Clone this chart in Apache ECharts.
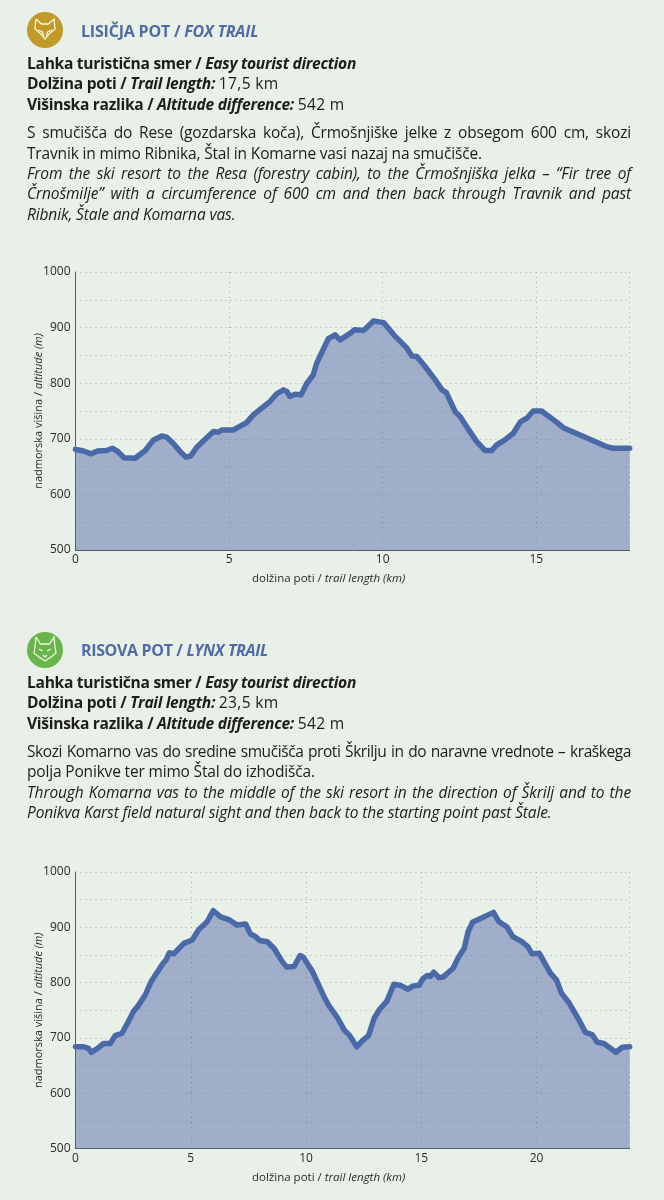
<!DOCTYPE html>
<html><head><meta charset="utf-8">
<script src="https://cdn.jsdelivr.net/npm/echarts@6/dist/echarts.min.js"></script>
<style>
html,body{margin:0;padding:0;background:#e9f0e7;width:664px;height:1200px;overflow:hidden}
#c{position:absolute;left:0;top:0;width:664px;height:1200px}
.t{position:absolute;left:27px;width:604px;white-space:nowrap;font-family:"Open Sans","Noto Sans",sans-serif;color:#1d1d1b;font-size:15.5px;line-height:20px;letter-spacing:-.17px}
.j{text-align:justify;text-align-last:justify;white-space:normal}
.it{letter-spacing:-.12px}
.b{font-weight:700;font-size:15.6px;letter-spacing:-.3px}
.b span{font-weight:400;letter-spacing:.3px}
.h{left:81px;color:#4f6ba8;font-weight:700;font-size:16px;letter-spacing:-.2px}
.tight{letter-spacing:-.42px}
i{font-style:italic}
</style></head><body>
<div id="c"></div>
<div class="t h" style="top:21px">LISIČJA POT / <i>FOX TRAIL</i></div>
<div class="t b" style="top:53px">Lahka turistična smer / <i>Easy tourist direction</i></div>
<div class="t b" style="top:73px">Dolžina poti / <i>Trail length:</i> <span>17,5 km</span></div>
<div class="t b" style="top:94px">Višinska razlika / <i>Altitude difference:</i> <span>542 m</span></div>
<div class="t j" style="top:122px">S smučišča do Rese (gozdarska koča), Črmošnjiške jelke z obsegom 600 cm, skozi</div>
<div class="t" style="top:143px">Travnik in mimo Ribnika, Štal in Komarne vasi nazaj na smučišče.</div>
<div class="t j it" style="top:163px"><i>From the ski resort to the Resa (forestry cabin), to the Črmošnjiška jelka – “Fir tree of</i></div>
<div class="t j it" style="top:183px"><i>Črnošmilje” with a circumference of 600 cm and then back through Travnik and past</i></div>
<div class="t it" style="top:204px"><i>Ribnik, Štale and Komarna vas.</i></div>

<div class="t h" style="top:640px;letter-spacing:-.35px">RISOVA POT / <i>LYNX TRAIL</i></div>
<div class="t b" style="top:672px">Lahka turistična smer / <i>Easy tourist direction</i></div>
<div class="t b" style="top:692px">Dolžina poti / <i>Trail length:</i> <span>23,5 km</span></div>
<div class="t b" style="top:713px">Višinska razlika / <i>Altitude difference:</i> <span>542 m</span></div>
<div class="t j tight" style="top:741px">Skozi Komarno vas do sredine smučišča proti Škrilju in do naravne vrednote – kraškega</div>
<div class="t" style="top:761px">polja Ponikve ter mimo Štal do izhodišča.</div>
<div class="t j it" style="top:782px"><i>Through Komarna vas to the middle of the ski resort in the direction of Škrilj and to the</i></div>
<div class="t it" style="top:802px"><i>Ponikva Karst field natural sight and then back to the starting point past Štale.</i></div>
<script>
const foxKm = [0,0.26,0.51,0.72,1.0,1.21,1.4,1.58,1.94,2.27,2.54,2.81,2.97,3.19,3.41,3.59,3.75,3.95,4.22,4.49,4.66,4.76,5.14,5.57,5.79,6.06,6.33,6.55,6.77,6.88,6.98,7.15,7.34,7.53,7.74,7.85,8.23,8.45,8.61,8.95,9.08,9.38,9.7,10.03,10.36,10.79,10.95,11.11,11.38,11.71,11.93,12.07,12.36,12.52,12.74,13.06,13.33,13.55,13.71,13.98,14.25,14.49,14.69,14.9,15.17,15.66,15.88,16.63,17.28,17.5,18.04];
const foxAlt = [681,678,673,678,679,683,676,666,665,679,698,705,703,691,677,667,669,685,699,713,712,716,716,729,743,755,767,781,788,785,776,780,779,800,815,836,880,887,878,890,896,895,912,909,887,863,849,848,830,806,788,783,749,740,721,695,679,679,689,698,710,731,737,750,750,730,720,702,686,683,683];
const lynxKm = [0,0.35,0.57,0.68,0.96,1.22,1.51,1.72,2.01,2.26,2.52,2.7,3.03,3.28,3.8,3.93,4.07,4.26,4.7,5.06,5.35,5.71,5.97,6.29,6.65,7.01,7.38,7.59,7.78,7.99,8.32,8.61,8.97,9.16,9.48,9.74,9.88,10.28,10.81,11,11.37,11.66,11.88,12.2,12.45,12.71,12.96,13.18,13.5,13.81,14.1,14.42,14.64,14.9,15.07,15.26,15.39,15.54,15.77,15.94,16.38,16.6,16.86,17.03,17.22,18.13,18.37,18.71,18.97,19.36,19.62,19.8,20.12,20.6,20.86,21.08,21.4,21.83,22.12,22.41,22.63,22.92,23.44,23.72,24.04];
const lynxAlt = [684,684,681,674,681,690,690,704,708,727,748,757,778,802,835,841,854,852,871,877,896,910,930,919,914,904,906,888,884,876,874,862,838,828,829,849,846,820,772,758,736,714,705,684,695,704,736,751,766,797,795,788,794,795,807,813,811,819,809,810,826,845,862,892,909,927,910,901,883,874,865,852,853,817,805,781,764,733,710,706,692,690,674,683,684];
const altTicks = [500,1000];
const foxMaxKm = 18.04, lynxMaxKm = 24.04;
const yName = 'nadmorska višina / ', yNameIt = 'altitude (m)';
const xName = 'dolžina poti / ', xNameIt = 'trail length (km)';

const TXT='#2b2b2b', FONT='"Open Sans","Noto Sans",sans-serif';
const dot={color:'#a9b0a8',width:1,type:[1,4]};
function xA(i,max){return {gridIndex:i,type:'value',min:0,max:max,interval:5,
  name:`{a|${xName}}{b|${xNameIt}}`,nameLocation:'middle',nameGap:23,nameMoveOverlap:false,
  nameTextStyle:{padding:[0,48,0,0],rich:{a:{fontSize:11.5,fontFamily:FONT,color:TXT},b:{fontSize:11.5,fontFamily:FONT,fontStyle:'italic',color:TXT}}},
  axisLine:{show:true,onZero:false,lineStyle:{color:'#555b63',width:1}},axisTick:{show:false},
  axisLabel:{color:TXT,fontFamily:FONT,fontSize:12,margin:4,formatter:v=>v>max-1?'':String(v)},
  splitLine:{show:true,showMaxLine:true,lineStyle:dot}};}
function yA(i){return {gridIndex:i,type:'value',min:altTicks[0],max:altTicks[1],interval:100,
  name:`{a|${yName}}{b|${yNameIt}}`,nameLocation:'middle',nameGap:31,nameRotate:90,nameMoveOverlap:false,
  nameTextStyle:{rich:{a:{fontSize:11,fontFamily:FONT,color:TXT},b:{fontSize:11,fontFamily:FONT,fontStyle:'italic',color:TXT}}},
  axisLine:{show:true,lineStyle:{color:'#555b63',width:1}},axisTick:{show:false},
  axisLabel:{color:TXT,fontFamily:FONT,fontSize:12,margin:5,formatter:v=>String(v)},
  splitLine:{show:true,lineStyle:dot},
  minorTick:{show:false,splitNumber:2},minorSplitLine:{show:true,lineStyle:dot}};}
function ser(i,km,alt){return {type:'line',xAxisIndex:i,yAxisIndex:i,data:km.map((k,n)=>[k,alt[n]]),
  showSymbol:false,smooth:false,clip:true,z:3,
  lineStyle:{color:'#4a69a8',width:5.5,join:'round',cap:'round'},
  areaStyle:{color:'#576cab',opacity:.5,origin:'start'},silent:true};}
const foxGlyph=[[[-9,-11],[-3.5,-6],[3.5,-6],[9,-11],[10,-1],[4,4],[0,9],[-4,4],[-10,-1],[-9,-11]],[[-7,0],[-2.5,2],[-1.5,6]],[[7,0],[2.5,2],[1.5,6]]];
const lynxGlyph=[[[-9,-13],[-4.5,-6],[4.5,-6],[9,-13],[10,-3],[11,3],[6,7],[0,11],[-6,7],[-11,3],[-10,-3],[-9,-13]],[[-6,-1],[-2,1]],[[6,-1],[2,1]],[[-2,5],[0,7],[2,5]]];
function icon(cx,cy,col,g){return {type:'group',x:cx,y:cy,children:[
  {type:'circle',shape:{cx:0,cy:0,r:18},style:{fill:col}}].concat(g.map(p=>(
  {type:'polyline',shape:{points:p},style:{fill:'none',stroke:'#f4f3e6',lineWidth:1.3}})))};}
const chart=echarts.init(document.getElementById('c'),null,{renderer:'canvas'});
chart.setOption({animation:false,backgroundColor:'#e9f0e7',
  grid:[{left:75.5,top:272,width:554.2,height:278},{left:75.5,top:872,width:554.2,height:276.5}],
  xAxis:[xA(0,foxMaxKm),xA(1,lynxMaxKm)],yAxis:[yA(0),yA(1)],
  series:[ser(0,foxKm,foxAlt),ser(1,lynxKm,lynxAlt)],
  graphic:[icon(45,30,'#c29a28',foxGlyph),icon(45,650,'#68b64a',lynxGlyph)]});
</script></body></html>
